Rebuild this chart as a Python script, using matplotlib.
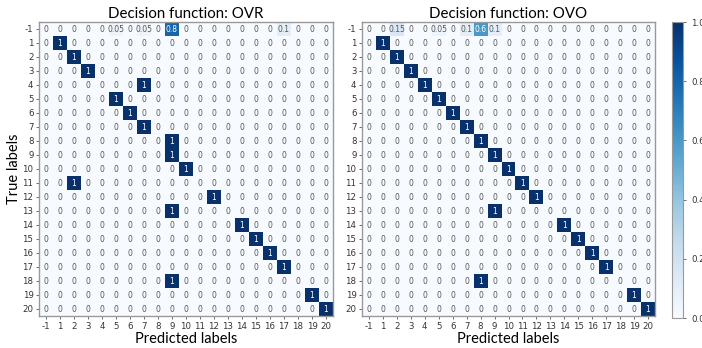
import numpy as np
import matplotlib
matplotlib.use('Agg')
import matplotlib.pyplot as plt

labels = [-1] + list(range(1, 21))

# normalised row for true label -1
ovr_row_neg = [0, 0, 0, 0, 0, 0.05, 0, 0.05, 0, 0.8, 0, 0, 0, 0, 0, 0, 0, 0.1, 0, 0, 0]
ovo_row_neg = [0, 0, 0.15, 0, 0, 0.05, 0, 0.1, 0.6, 0.1, 0, 0, 0, 0, 0, 0, 0, 0, 0, 0, 0]

# predicted label for true labels 1..20
ovr_pred = [1, 2, 3, 7, 5, 6, 7, 9, 9, 10, 2, 12, 9, 14, 15, 16, 17, 9, 19, 20]
ovo_pred = [1, 2, 3, 4, 5, 6, 7, 8, 9, 10, 11, 12, 9, 14, 15, 16, 17, 8, 19, 20]

titles = ['Decision function: OVR', 'Decision function: OVO']


def build_cm(row_neg, preds):
    n = len(labels)
    cm = np.zeros((n, n))
    cm[0] = row_neg
    for i, p in enumerate(preds):
        cm[i + 1, labels.index(p)] = 1
    return cm


def draw_cm(ax, cm, title, ylabel=True):
    im = ax.imshow(cm, cmap='Blues', vmin=0, vmax=1, interpolation='nearest', aspect='auto')
    n = len(labels)
    for i in range(n):
        for j in range(n):
            v = cm[i, j]
            ax.text(j, i, '{:g}'.format(v), ha='center', va='center', fontsize=5.5,
                    color='white' if v > 0.5 else '#555555')
    ax.set_xticks(range(n))
    ax.set_yticks(range(n))
    ax.set_xticklabels(labels, fontsize=6.2, color='#333333')
    ax.set_yticklabels(labels, fontsize=6.2, color='#333333')
    ax.tick_params(length=2.5, width=0.6, pad=1.5, colors='#555555', labelcolor='#333333')
    for s in ax.spines.values():
        s.set_color('#999999')
        s.set_linewidth(1.0)
    ax.set_title(title, fontsize=10.8, family='Lato', pad=3)
    ax.set_xlabel('Predicted labels', fontsize=10.5, family='Lato', labelpad=1)
    if ylabel:
        ax.set_ylabel('True labels', fontsize=10.5, family='Lato', labelpad=1)
    return im


fig = plt.figure(figsize=(7.02, 3.48), dpi=100)
ax1 = fig.add_axes([39 / 702, 32 / 348, 294 / 702, 294 / 348])
ax2 = fig.add_axes([362 / 702, 32 / 348, 293 / 702, 294 / 348])
cax = fig.add_axes([672 / 702, 30 / 348, 11 / 702, 296 / 348])

draw_cm(ax1, build_cm(ovr_row_neg, ovr_pred), titles[0])
im = draw_cm(ax2, build_cm(ovo_row_neg, ovo_pred), titles[1], ylabel=False)

cb = fig.colorbar(im, cax=cax, ticks=[0, 0.2, 0.4, 0.6, 0.8, 1.0])
cb.ax.tick_params(labelsize=6.2, length=2.5, width=0.6, colors='#555555', labelcolor='#333333')
cb.outline.set_edgecolor('#999999')
cb.outline.set_linewidth(0.8)

fig.savefig('out.png', dpi=100)
